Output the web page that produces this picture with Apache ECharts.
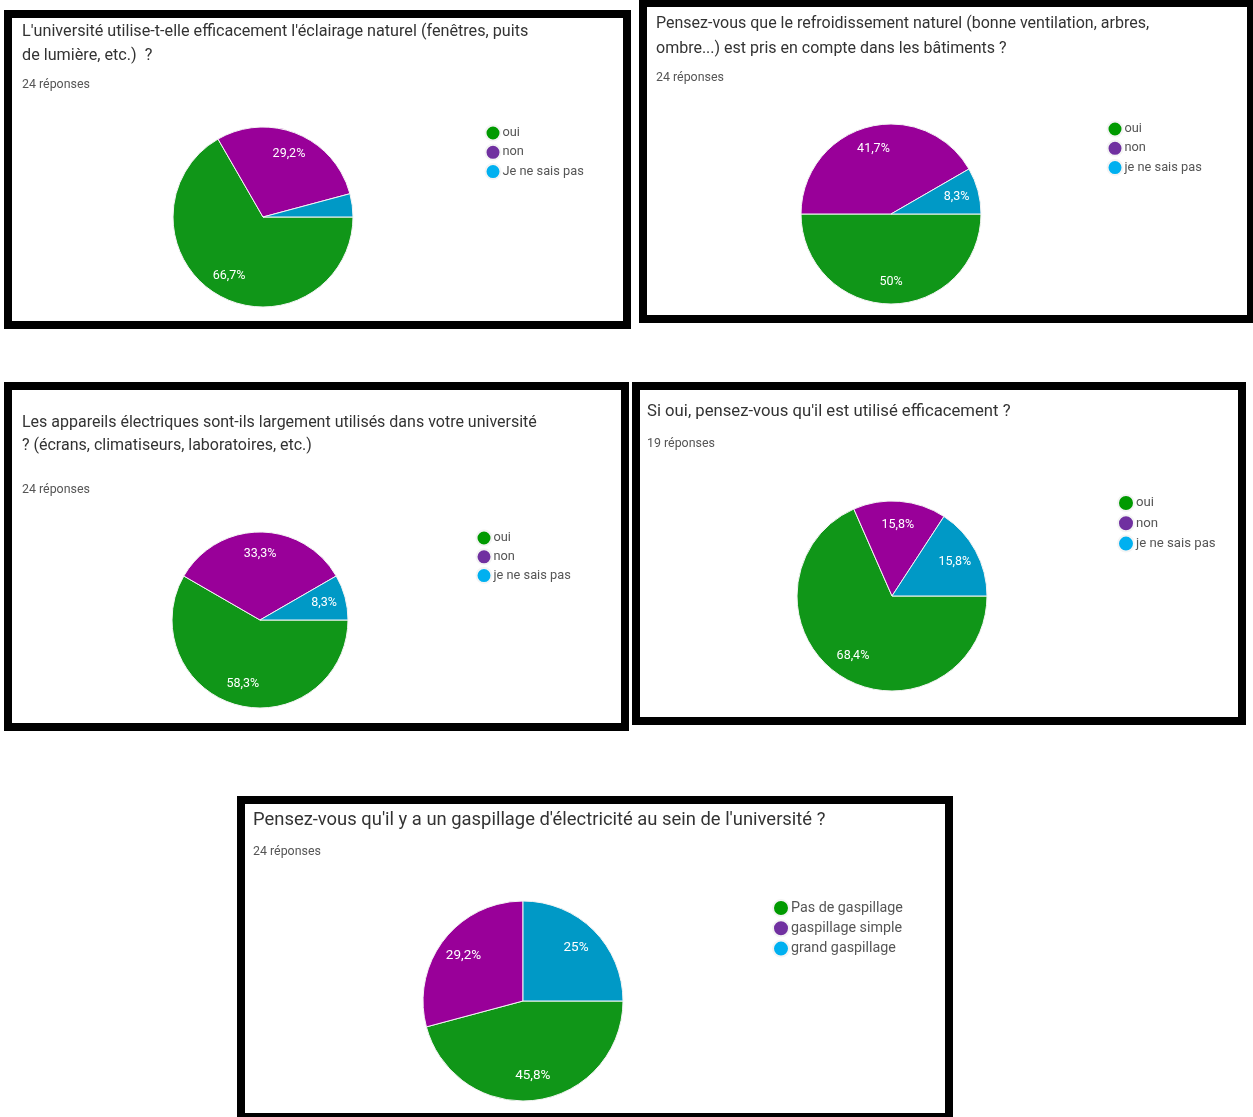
<!DOCTYPE html>
<html>
<head>
<meta charset="utf-8">
<script src="https://cdn.jsdelivr.net/npm/echarts@6/dist/echarts.min.js"></script>
<style>
html,body{margin:0;padding:0;background:#fff;}
#c{width:1253px;height:1117px;}
</style>
</head>
<body>
<div id="c"></div>
<script>
// ---- data ----
const cats1 = ['oui', 'non', 'Je ne sais pas'];
const vals1 = [16, 7, 1];
const cats2 = ['oui', 'non', 'je ne sais pas'];
const vals2 = [12, 10, 2];
const cats3 = ['oui', 'non', 'je ne sais pas'];
const vals3 = [14, 8, 2];
const cats4 = ['oui', 'non', 'je ne sais pas'];
const vals4 = [13, 3, 3];
const cats5 = ['Pas de gaspillage', 'gaspillage simple', 'grand gaspillage'];
const vals5 = [11, 7, 6];

const titles = [
  "L'université utilise-t-elle efficacement l'éclairage naturel (fenêtres, puits\nde lumière, etc.)  ?",
  "Pensez-vous que le refroidissement naturel (bonne ventilation, arbres,\nombre...) est pris en compte dans les bâtiments ?",
  "Les appareils électriques sont-ils largement utilisés dans votre université\n? (écrans, climatiseurs, laboratoires, etc.)",
  "Si oui, pensez-vous qu'il est utilisé efficacement ?",
  "Pensez-vous qu'il y a un gaspillage d'électricité au sein de l'université ?"
];
const responses = ['24 réponses', '24 réponses', '24 réponses', '19 réponses', '24 réponses'];

// ---- styling / layout ----
const sliceColors = ['#109618', '#990099', '#0099c6'];
const legendColors = ['#009a00', '#7030a0', '#00b0f0'];
const FONT = 'Roboto';

// title: [left, centerOfFirstLine, fontSize, lineHeight]
// legend: [left, firstCenterY, iconSize, rowSpacing, fontSize]
const panels = [
  {box: [4, 10, 631, 329], title: [22, 32, 16.2, 24], resp: [22, 85], pie: [263, 217, 90], legend: [484.5, 132, 15, 19.5, 12.8], lbl: 12.5},
  {box: [639, -1, 1255, 323], title: [656, 24, 16, 25], resp: [656, 78], pie: [891, 214, 90], legend: [1106.5, 128, 15, 19.5, 12.8], lbl: 12.5},
  {box: [4, 382, 629, 731], title: [22, 423, 16, 23], resp: [22, 490], pie: [260, 620, 88], legend: [475.5, 537, 15, 19, 12.8], lbl: 12.5},
  {box: [632, 382, 1246, 725], title: [647, 412, 16.7, 20], resp: [647, 444], pie: [892, 596, 95], legend: [1117, 502, 16, 20.5, 13.2], lbl: 12.5},
  {box: [237, 796, 953, 1121], title: [253, 820, 18.4, 20], resp: [253, 852], pie: [523, 1001, 100], legend: [772, 907, 16, 20.5, 14.3], lbl: 13.5}
];
const catsAll = [cats1, cats2, cats3, cats4, cats5];
const valsAll = [vals1, vals2, vals3, vals4, vals5];

const chart = echarts.init(document.getElementById('c'), null, {renderer: 'canvas'});

const graphic = [];
const title = [];
const legend = [];
const series = [];

panels.forEach((pn, i) => {
  const [x0, y0, x1, y1] = pn.box;
  const bw = 8;
  graphic.push({
    type: 'rect', z: -10,
    shape: {x: x0 + bw / 2, y: y0 + bw / 2, width: x1 - x0 - bw, height: y1 - y0 - bw},
    style: {fill: 'transparent', stroke: '#000', lineWidth: bw}
  });
  const [tl, tc, tfs, tlh] = pn.title;
  title.push({
    text: titles[i], left: tl, top: tc - tlh / 2, padding: 0,
    textStyle: {fontFamily: FONT, fontSize: tfs, lineHeight: tlh, fontWeight: 'normal', color: '#333'}
  });
  title.push({
    text: responses[i], left: pn.resp[0], top: pn.resp[1] - 7, padding: 0,
    textStyle: {fontFamily: FONT, fontSize: 12.4, lineHeight: 14, fontWeight: 'normal', color: '#555'}
  });
  const cats = catsAll[i], vals = valsAll[i];
  const total = vals.reduce((a, b) => a + b, 0);
  const [cx, cy, r] = pn.pie;
  const data = cats.map((n, k) => ({name: n, value: vals[k], itemStyle: {color: sliceColors[k]}}));
  const labelData = cats.map((n, k) => ({name: n, value: vals[k]}));
  const [ll, lc, ls, lsp, lfs] = pn.legend;
  legend.push({
    orient: 'vertical', left: ll, top: lc - ls / 2, padding: 0,
    icon: 'circle', itemWidth: ls, itemHeight: ls, itemGap: lsp - ls - 2.2,
    selectedMode: false,
    textStyle: {fontFamily: FONT, fontSize: lfs, lineHeight: ls, color: '#555', padding: [0, 0, 0, -3]},
    data: cats.map((n, k) => ({name: n, itemStyle: {color: legendColors[k]}}))
  });
  series.push({
    type: 'pie', center: [cx, cy], radius: [0, r],
    startAngle: 0, clockwise: true, silent: true, animation: false,
    itemStyle: {borderColor: '#f4f4f4', borderWidth: 1},
    label: {show: false}, labelLine: {show: false},
    emphasis: {disabled: true},
    data: data
  });
  // transparent ring carrying the percentage labels at ~0.72 r
  series.push({
    type: 'pie', center: [cx, cy], radius: [0.44 * r, r],
    startAngle: 0, clockwise: true, silent: true, animation: false,
    itemStyle: {color: 'rgba(0,0,0,0)', borderWidth: 0},
    label: {
      show: true, position: 'inside', color: '#fff',
      fontFamily: FONT, fontSize: pn.lbl,
      formatter: function (p) {
        const pct = Math.round(p.value / total * 1000) / 10;
        if (pct < 5) return '';
        return String(pct).replace('.', ',') + '%';
      }
    },
    labelLine: {show: false},
    emphasis: {disabled: true},
    legendHoverLink: false,
    data: labelData
  });
});

chart.setOption({
  backgroundColor: '#fff',
  animation: false,
  graphic: graphic,
  title: title,
  legend: legend,
  series: series
});
</script>
</body>
</html>
